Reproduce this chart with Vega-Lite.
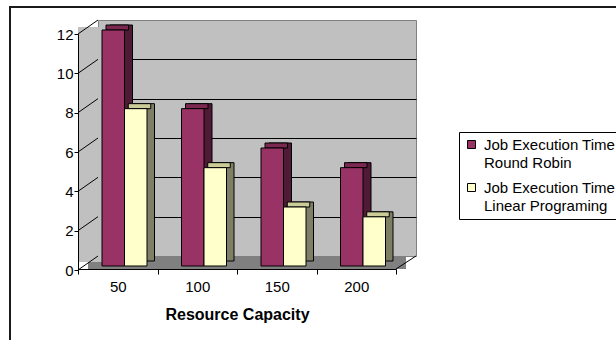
{
  "$schema": "https://vega.github.io/schema/vega-lite/v6.json",
  "width": 318,
  "height": 236,
  "autosize": "none",
  "padding": {"left": 98, "top": 20, "right": 200, "bottom": 84},
  "background": "white",
  "config": {
    "font": "Liberation Sans",
    "view": {"fill": "#c0c0c0", "stroke": "#808080", "strokeWidth": 1},
    "style": {"guide-label": {"lineHeight": 18.5}}
  },
  "data": {
    "values": [
      {"cat": "50", "series": "Job Execution Time Round Robin", "value": 12},
      {"cat": "50", "series": "Job Execution Time Linear Programing", "value": 8},
      {"cat": "100", "series": "Job Execution Time Round Robin", "value": 8},
      {"cat": "100", "series": "Job Execution Time Linear Programing", "value": 5},
      {"cat": "150", "series": "Job Execution Time Round Robin", "value": 6},
      {"cat": "150", "series": "Job Execution Time Linear Programing", "value": 3},
      {"cat": "200", "series": "Job Execution Time Round Robin", "value": 5},
      {"cat": "200", "series": "Job Execution Time Linear Programing", "value": 2.5}
    ]
  },
  "encoding": {
    "x": {
      "field": "cat",
      "type": "nominal",
      "sort": ["50", "100", "150", "200"],
      "scale": {"paddingInner": 0, "paddingOuter": 0},
      "axis": {
        "orient": "bottom",
        "offset": 13,
        "position": -20,
        "tickBand": "extent",
        "tickSize": 5,
        "tickColor": "black",
        "domainColor": "black",
        "labelPadding": 5,
        "labelFontSize": 15,
        "labelAngle": 0,
        "labelColor": "black",
        "title": "Resource Capacity",
        "titleFontSize": 16,
        "titleFontWeight": "bold",
        "titleColor": "black",
        "titlePadding": 12,
        "grid": false,
        "zindex": 1
      }
    }
  },
  "layer": [
    {
      "data": {"values": [{}]},
      "mark": {"type": "rect", "fill": "#808080", "xOffset": -10, "x2Offset": -10, "y2Offset": 13},
      "encoding": {
        "x": {"value": 0},
        "x2": {"value": "width"},
        "y": {"datum": 0, "type": "quantitative", "axis": null},
        "y2": {"datum": 0}
      }
    },
    {
      "data": {"values": [{}]},
      "mark": {"type": "rect", "fill": "#c0c0c0", "xOffset": -20, "x2Offset": -298, "yOffset": 7, "y2Offset": 6},
      "encoding": {
        "x": {"value": 0},
        "x2": {"value": "width"},
        "y": {"datum": 12, "type": "quantitative", "axis": null},
        "y2": {"datum": 0}
      }
    },
    {
      "data": {"values": [{"t": 0}, {"t": 2}, {"t": 4}, {"t": 6}, {"t": 8}, {"t": 10}, {"t": 12}]},
      "mark": {"type": "rule", "color": "black", "strokeWidth": 1, "xOffset": -20, "yOffset": 14},
      "encoding": {
        "x": {"value": 0},
        "x2": {"value": 0},
        "y": {"field": "t", "type": "quantitative", "axis": null},
        "y2": {"field": "t"}
      }
    },
    {
      "data": {"values": [{}]},
      "mark": {"type": "rule", "color": "black", "strokeWidth": 1, "xOffset": -20, "yOffset": 13},
      "encoding": {
        "x": {"value": "width"},
        "x2": {"value": "width"},
        "y": {"datum": 0, "type": "quantitative", "axis": null},
        "y2": {"datum": 0}
      }
    },
    {
      "data": {"values": [{}]},
      "mark": {"type": "rect", "fillOpacity": 0, "stroke": "#1a1a1a", "strokeWidth": 2, "xOffset": -88, "x2Offset": 400, "yOffset": -13, "y2Offset": 200},
      "encoding": {
        "x": {"value": 0},
        "x2": {"value": "width"},
        "y": {"value": 0},
        "y2": {"value": "height"}
      }
    },
    {
      "transform": [{"filter": "datum.series == 'Job Execution Time Round Robin'"}],
      "mark": {"type": "bar", "width": 22.5, "fill": "#4f1a35", "stroke": "black", "strokeWidth": 1, "xOffset": -16.5, "yOffset": 5, "y2Offset": 5},
      "encoding": {
        "y": {
          "field": "value",
          "type": "quantitative",
          "scale": {"domain": [0, 12], "nice": false},
          "axis": {"orient": "left", "values": [2, 4, 6, 8, 10], "grid": true, "gridColor": "black", "gridWidth": 1, "gridOpacity": 1, "labels": false, "ticks": false, "domain": false, "title": null}
        }
      }
    },
    {
      "transform": [{"filter": "datum.series == 'Job Execution Time Linear Programing'"}],
      "mark": {"type": "bar", "width": 22.5, "fill": "#7f7f66", "stroke": "black", "strokeWidth": 1, "xOffset": 5.5, "yOffset": 5, "y2Offset": 5},
      "encoding": {
        "y": {"field": "value", "type": "quantitative", "axis": null}
      }
    },
    {
      "transform": [{"filter": "datum.series == 'Job Execution Time Round Robin'"}],
      "mark": {"type": "bar", "width": 22.5, "fill": "#7a2850", "stroke": "black", "strokeWidth": 1, "xOffset": -20.5, "yOffset": 5, "y2Offset": 10},
      "encoding": {
        "y": {"field": "value", "type": "quantitative", "axis": null},
        "y2": {"field": "value"}
      }
    },
    {
      "transform": [{"filter": "datum.series == 'Job Execution Time Linear Programing'"}],
      "mark": {"type": "bar", "width": 22.5, "fill": "#cccc99", "stroke": "black", "strokeWidth": 1, "xOffset": 1.75, "yOffset": 5, "y2Offset": 10},
      "encoding": {
        "y": {"field": "value", "type": "quantitative", "axis": null},
        "y2": {"field": "value"}
      }
    },
    {
      "transform": [{"filter": "datum.series == 'Job Execution Time Round Robin'"}],
      "mark": {"type": "bar", "width": 22.5, "stroke": "black", "strokeWidth": 1, "xOffset": -24.5, "yOffset": 10, "y2Offset": 10},
      "encoding": {
        "y": {
          "field": "value",
          "type": "quantitative",
          "axis": {"orient": "left", "values": [0, 2, 4, 6, 8, 10, 12], "position": 14, "offset": 20, "grid": false, "tickSize": 4, "tickColor": "black", "domainColor": "black", "labelPadding": 1, "labelFontSize": 15, "labelColor": "black", "title": null, "zindex": 1}
        },
        "color": {
          "field": "series",
          "type": "nominal",
          "scale": {"domain": ["Job Execution Time Round Robin", "Job Execution Time Linear Programing"], "range": ["#993366", "#ffffcc"]},
          "legend": {
            "orient": "none",
            "legendX": 361,
            "legendY": 112,
            "title": null,
            "symbolType": "square",
            "symbolSize": 64,
            "symbolStrokeColor": "black",
            "symbolStrokeWidth": 1,
            "labelFontSize": 15,
            "labelColor": "black",
            "labelLimit": 400,
            "labelOffset": 5,
            "labelExpr": "[slice(datum.label, 0, 18), slice(datum.label, 19)]",
            "strokeColor": "black",
            "fillColor": "white",
            "padding": 5,
            "rowPadding": 9,
            "encoding": {"labels": {"enter": {"lineHeight": {"value": 19}}, "update": {"lineHeight": {"value": 19}}}}
          }
        }
      }
    },
    {
      "transform": [{"filter": "datum.series == 'Job Execution Time Linear Programing'"}],
      "mark": {"type": "bar", "width": 22.5, "stroke": "black", "strokeWidth": 1, "xOffset": -2, "yOffset": 10, "y2Offset": 10},
      "encoding": {
        "y": {"field": "value", "type": "quantitative", "axis": null},
        "color": {"field": "series", "type": "nominal"}
      }
    }
  ],
  "resolve": {"axis": {"y": "independent"}}
}
